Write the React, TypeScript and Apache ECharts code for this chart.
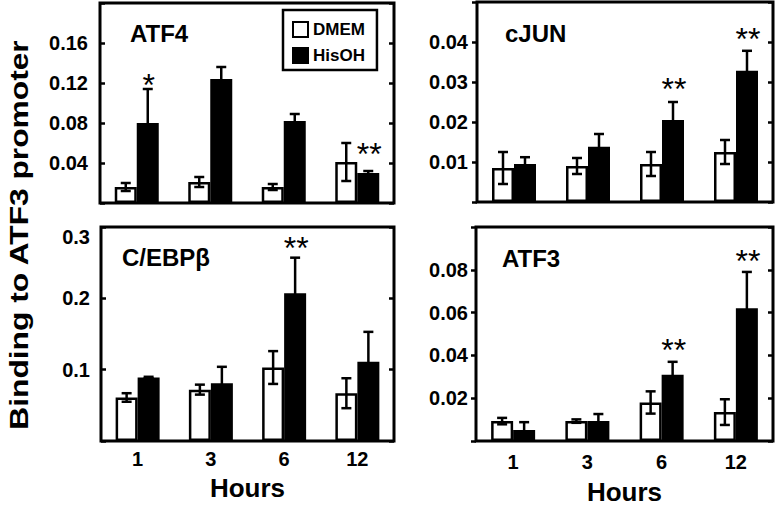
import React, { useEffect, useRef } from "react";
import * as echarts from "echarts";

const FONT = '"Liberation Sans", Arial, Helvetica, sans-serif';

// categories
const hours = ["1", "3", "6", "12"];
const legendNames = ["DMEM", "HisOH"];

// ATF4
const atf4Dmem = [0.016, 0.021, 0.016, 0.041];
const atf4DmemErr = [0.004, 0.005, 0.003, 0.019];
const atf4His = [0.08, 0.124, 0.082, 0.03];
const atf4HisErr = [0.034, 0.012, 0.007, 0.002];
const atf4Sig = ["*", "", "", "**"];
const atf4SigY = [0.125, 0, 0, 0.056];

// cJUN
const cjunDmem = [0.0085, 0.009, 0.0095, 0.0125];
const cjunDmemErr = [0.004, 0.002, 0.003, 0.003];
const cjunHis = [0.0095, 0.0138, 0.0205, 0.0328];
const cjunHisErr = [0.0017, 0.0032, 0.0045, 0.005];
const cjunSig = ["", "", "**", "**"];
const cjunSigY = [0, 0, 0.03, 0.0425];

// C/EBPβ
const cebpDmem = [0.061, 0.072, 0.103, 0.067];
const cebpDmemErr = [0.006, 0.007, 0.023, 0.021];
const cebpHis = [0.089, 0.081, 0.207, 0.111];
const cebpHisErr = [0.001, 0.023, 0.05, 0.042];
const cebpSig = ["", "", "**", ""];
const cebpSigY = [0, 0, 0.281, 0];

// ATF3
const atf3Dmem = [0.0093, 0.0093, 0.018, 0.0135];
const atf3DmemErr = [0.0015, 0.0008, 0.0052, 0.006];
const atf3His = [0.0051, 0.0093, 0.031, 0.062];
const atf3HisErr = [0.0037, 0.0033, 0.006, 0.017];
const atf3Sig = ["", "", "**", "**"];
const atf3SigY = [0, 0, 0.046, 0.0874];

// axes
const panelTitles = ["ATF4", "cJUN", "C/EBPβ", "ATF3"];
const yMax = [0.2, 0.05, 0.3, 0.1];
const yInterval = [0.04, 0.01, 0.1, 0.02];
const yDecimals = [2, 2, 1, 2];
const yShowTop = [false, false, true, false];
const xAxisTitle = "Hours";
const yAxisTitle = "Binding to ATF3 promoter";

const panelData = [
  { dmem: atf4Dmem, dmemErr: atf4DmemErr, his: atf4His, hisErr: atf4HisErr, sig: atf4Sig, sigY: atf4SigY },
  { dmem: cjunDmem, dmemErr: cjunDmemErr, his: cjunHis, hisErr: cjunHisErr, sig: cjunSig, sigY: cjunSigY },
  { dmem: cebpDmem, dmemErr: cebpDmemErr, his: cebpHis, hisErr: cebpHisErr, sig: cebpSig, sigY: cebpSigY },
  { dmem: atf3Dmem, dmemErr: atf3DmemErr, his: atf3His, hisErr: atf3HisErr, sig: atf3Sig, sigY: atf3SigY },
];

// layout
const grids = [
  { left: 100, top: 3, width: 294, height: 200 },
  { left: 477, top: 2, width: 296, height: 200 },
  { left: 101, top: 227, width: 293, height: 214 },
  { left: 476, top: 227, width: 297, height: 214 },
];
const titlePos = [
  { left: 130, top: 21 },
  { left: 505, top: 21 },
  { left: 122, top: 245 },
  { left: 502, top: 246 },
];
const tickInside = [true, false, true, false];
const labelMargin = [12, 9, 11, 8];
const xLabelMargin = [8, 8, 8, 11];
const xNameGap = [34, 34, 34, 38];

const BAR_W = 22;

function buildOption() {
  const series: any[] = [];
  const xAxis: any[] = [];
  const yAxis: any[] = [];
  panelData.forEach((p, i) => {
    const bottom = i >= 2;
    xAxis.push({
      gridIndex: i,
      type: "category",
      data: hours,
      axisLine: { show: false },
      axisTick: { show: false },
      axisLabel: {
        show: bottom,
        fontSize: 20,
        fontWeight: "bold",
        color: "#000",
        fontFamily: FONT,
        margin: xLabelMargin[i],
      },
      name: bottom ? xAxisTitle : "",
      nameLocation: "middle",
      nameGap: xNameGap[i],
      nameTextStyle: { fontSize: 26, fontWeight: "bold", color: "#000", fontFamily: FONT },
    });
    const max = yMax[i];
    const common = {
      gridIndex: i,
      type: "value",
      min: 0,
      max,
      interval: yInterval[i],
      axisLine: { show: false },
      splitLine: { show: false },
    };
    yAxis.push({
      ...common,
      position: "left",
      axisTick: { show: true, inside: tickInside[i], length: 5, lineStyle: { color: "#000", width: 2.5 } },
      axisLabel: {
        fontSize: 20,
        fontWeight: "bold",
        color: "#000",
        fontFamily: FONT,
        margin: labelMargin[i],
        verticalAlignMaxLabel: yShowTop[i] ? "top" : undefined,
        formatter: (v: number) => {
          if (v < 1e-9) return "";
          if (v > max - 1e-9 && !yShowTop[i]) return "";
          return v.toFixed(yDecimals[i]);
        },
      },
    });
    yAxis.push({
      ...common,
      position: "right",
      axisTick: { show: true, inside: true, length: 5, lineStyle: { color: "#000", width: 2.5 } },
      axisLabel: { show: false },
    });

    series.push({
      type: "bar",
      name: legendNames[0],
      xAxisIndex: i,
      yAxisIndex: 2 * i,
      data: p.dmem,
      barWidth: BAR_W,
      barGap: "0%",
      itemStyle: { color: "#fff", borderColor: "#000", borderWidth: 2.5 },
    });
    series.push({
      type: "bar",
      name: legendNames[1],
      xAxisIndex: i,
      yAxisIndex: 2 * i,
      data: p.his,
      barWidth: BAR_W,
      barGap: "0%",
      itemStyle: { color: "#000", borderColor: "#000", borderWidth: 2.5 },
    });

    const errData: any[] = [];
    p.dmem.forEach((v, k) => errData.push([k, v, p.dmemErr[k], -1]));
    p.his.forEach((v, k) => errData.push([k, v, p.hisErr[k], 1]));
    series.push({
      type: "custom",
      xAxisIndex: i,
      yAxisIndex: 2 * i,
      z: 5,
      silent: true,
      data: errData,
      encode: { x: 0, y: 1 },
      renderItem: (params: any, api: any) => {
        const cat = api.value(0);
        const mean = api.value(1);
        const err = api.value(2);
        const side = api.value(3);
        const top = api.coord([cat, mean + err]);
        const bot = api.coord([cat, Math.max(mean - err, 0)]);
        const x = top[0] + side * (BAR_W / 2);
        const cap = 5;
        const st = { stroke: "#000", lineWidth: 2.5 };
        return {
          type: "group",
          children: [
            { type: "line", shape: { x1: x, y1: top[1], x2: x, y2: bot[1] }, style: st },
            { type: "line", shape: { x1: x - cap, y1: top[1], x2: x + cap, y2: top[1] }, style: st },
            { type: "line", shape: { x1: x - cap, y1: bot[1], x2: x + cap, y2: bot[1] }, style: st },
          ],
        };
      },
    });

    const sigData: any[] = [];
    const sigLabels: string[] = [];
    p.sig.forEach((s, k) => {
      if (s) {
        sigData.push([k, p.sigY[k]]);
        sigLabels.push(s);
      }
    });
    series.push({
      type: "custom",
      xAxisIndex: i,
      yAxisIndex: 2 * i,
      z: 6,
      silent: true,
      data: sigData,
      encode: { x: 0, y: 1 },
      renderItem: (params: any, api: any) => {
        const pt = api.coord([api.value(0), api.value(1)]);
        return {
          type: "text",
          x: pt[0] + BAR_W / 2 + 1,
          y: pt[1] + 7,
          style: {
            text: sigLabels[params.dataIndex],
            fontSize: 32,
            fontFamily: FONT,
            fill: "#000",
            align: "center",
            verticalAlign: "middle",
          },
        };
      },
    });
  });

  return {
    animation: false,
    backgroundColor: "#fff",
    grid: grids.map((g) => ({ ...g, show: true, borderColor: "#000", borderWidth: 3, backgroundColor: "transparent" })),
    title: panelTitles.map((t, i) => ({
      text: t,
      left: titlePos[i].left,
      top: titlePos[i].top,
      padding: 0,
      textStyle: { fontSize: 24, fontWeight: "bold", color: "#000", fontFamily: FONT },
    })),
    legend: {
      data: legendNames,
      left: 283,
      top: 10,
      orient: "vertical",
      icon: "rect",
      padding: [11, 12, 6, 9],
      itemGap: 9,
      itemWidth: 15,
      itemHeight: 15,
      borderColor: "#000",
      borderWidth: 2.5,
      selectedMode: false,
      textStyle: { fontSize: 17, fontWeight: "bold", color: "#000", fontFamily: FONT },
    },
    graphic: [
      {
        type: "text",
        x: 19,
        y: 235,
        rotation: Math.PI / 2,
        scaleX: 1.22,
        style: {
          text: yAxisTitle,
          fontSize: 26,
          fontWeight: "bold",
          fontFamily: FONT,
          fill: "#000",
          align: "center",
          verticalAlign: "middle",
        },
      },
    ],
    xAxis,
    yAxis,
    series,
  };
}

export default function App() {
  const ref = useRef<HTMLDivElement>(null);
  useEffect(() => {
    if (!ref.current) return;
    const chart = echarts.init(ref.current, undefined, { renderer: "svg" });
    chart.setOption(buildOption() as any);
    return () => chart.dispose();
  }, []);
  return (
    <div
      ref={ref}
      style={{ position: "absolute", left: 0, top: 0, width: 776, height: 513, background: "#fff" }}
    />
  );
}
